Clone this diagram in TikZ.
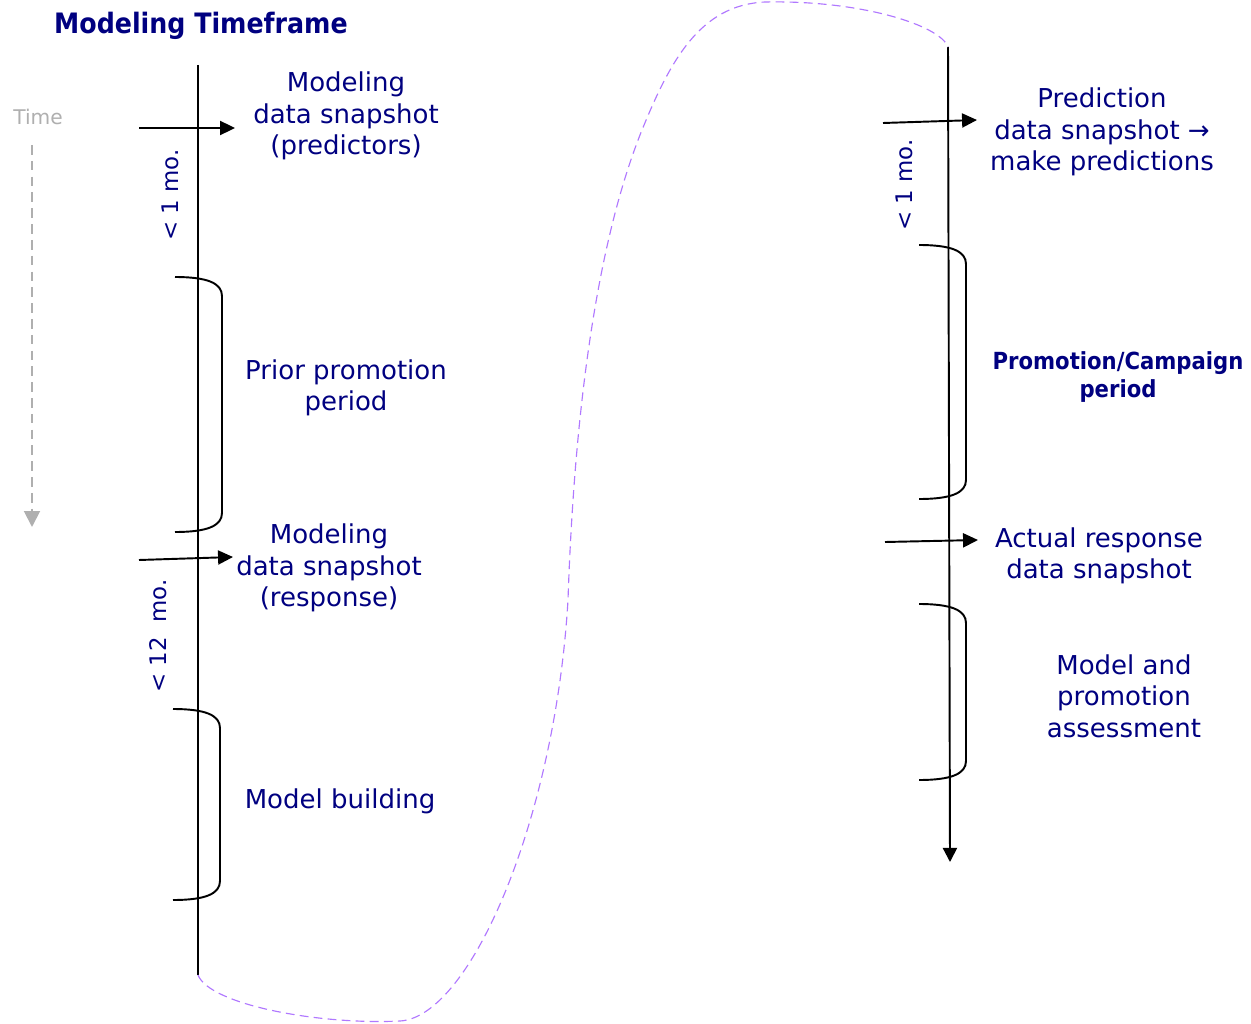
\documentclass[tikz,border=0pt]{standalone}
\usepackage{fontspec}
\setmainfont{DejaVu Sans}
\newfontfamily\condfont{DejaVu Sans Condensed}
\usetikzlibrary{arrows.meta}

\definecolor{labelnavy}{RGB}{0,0,128}
\definecolor{linkpurple}{RGB}{176,120,255}
\definecolor{timegray}{RGB}{175,175,175}

\tikzset{
  lbl/.style={text=labelnavy, font=\fontsize{14.8}{18}\selectfont, align=center},
  lblbold/.style={text=labelnavy, font=\condfont\fontsize{13.4}{16}\selectfont\bfseries, align=center},
  gap/.style={text=labelnavy, font=\fontsize{13}{16}\selectfont, rotate=90},
  snap/.style={line width=1.1pt, -{Triangle[length=8.5pt,width=8pt]}},
  period/.style={line width=1.1pt},
  link/.style={color=linkpurple, line width=0.65pt, dash pattern=on 5pt off 3pt}
}

\begin{document}
\begin{tikzpicture}[x=0.02cm, y=-0.02cm]
    \useasboundingbox (0,0) rectangle (1251,1024);

    % title and time direction
    \node[text=labelnavy, font=\condfont\fontsize{16}{18}\selectfont\bfseries] (title) at (201,26) {Modeling Timeframe};
    \node[text=timegray, font=\fontsize{11.5}{14}\selectfont] (time) at (38,117) {Time};
    \coordinate (t0) at (32,145);
    \coordinate (t1) at (32,527);
    \draw[timegray, line width=1.1pt, dash pattern=on 5.5pt off 3.5pt, -{Triangle[length=9pt,width=9pt]}] (t0) -- (t1);

    % the two timelines and the link between them
    \coordinate (l0) at (198,65);
    \coordinate (l1) at (198,975);
    \coordinate (r0) at (948,47);
    \coordinate (r1) at (950,862);
    \draw[line width=1.1pt] (l0) -- (l1);
    \draw[line width=1.1pt, -{Triangle[length=8pt,width=8pt]}] (r0) -- (r1);
    \draw[link] (l1) .. controls (210,1005) and (320,1025) .. (400,1021)
      .. controls (470,1017) and (555,820) .. (568,600)
      .. controls (574,420) and (595,250) .. (640,135)
      .. controls (670,60) and (700,5) .. (765,2)
      .. controls (860,0) and (940,25) .. (r0);

    % periods
    \foreach \xa/\xb/\ya/\yb in {175/222/277/532, 173/220/709/900, 919/966/245/499, 919/966/604/780}
    \draw[period] (\xa,\ya) .. controls (\xa+32,\ya) and (\xb,\ya+6) .. (\xb,\ya+19)
      -- (\xb,\yb-19) .. controls (\xb,\yb-6) and (\xa+32,\yb) .. (\xa,\yb);

    % snapshots
    \coordinate (s1a) at (139,128);  \coordinate (s1b) at (235,128);
    \coordinate (s2a) at (139,560);  \coordinate (s2b) at (233,557);
    \coordinate (s3a) at (883,123);  \coordinate (s3b) at (977,120);
    \coordinate (s4a) at (885,542);  \coordinate (s4b) at (978,540);
    \draw[snap] (s1a) -- (s1b);
    \draw[snap] (s2a) -- (s2b);
    \draw[snap] (s3a) -- (s3b);
    \draw[snap] (s4a) -- (s4b);

    \node[lbl] (predictors) at (346,116) {Modeling\\data snapshot\\(predictors)};
    \node[lbl] (prior) at (346,388) {Prior promotion\\period};
    \node[lbl] (response) at (329,568) {Modeling\\data snapshot\\(response)};
    \node[lbl] (building) at (340,801) {Model building};
    \node[lbl] (prediction) at (1102,132) {Prediction\\data snapshot →\\make predictions};
    \node[lblbold] (campaign) at (1118,377) {Promotion/Campaign\\period};
    \node[lbl] (actual) at (1099,556) {Actual response\\data snapshot};
    \node[lbl] (assess) at (1124,696) {Model and\\promotion\\assessment};

    \node[gap] (gap1) at (170,195) {< 1 mo.};
    \node[gap] (gap2) at (158,636) {< 12\ \ mo.};
    \node[gap] (gap3) at (904,185) {< 1 mo.};

\end{tikzpicture}
\end{document}
